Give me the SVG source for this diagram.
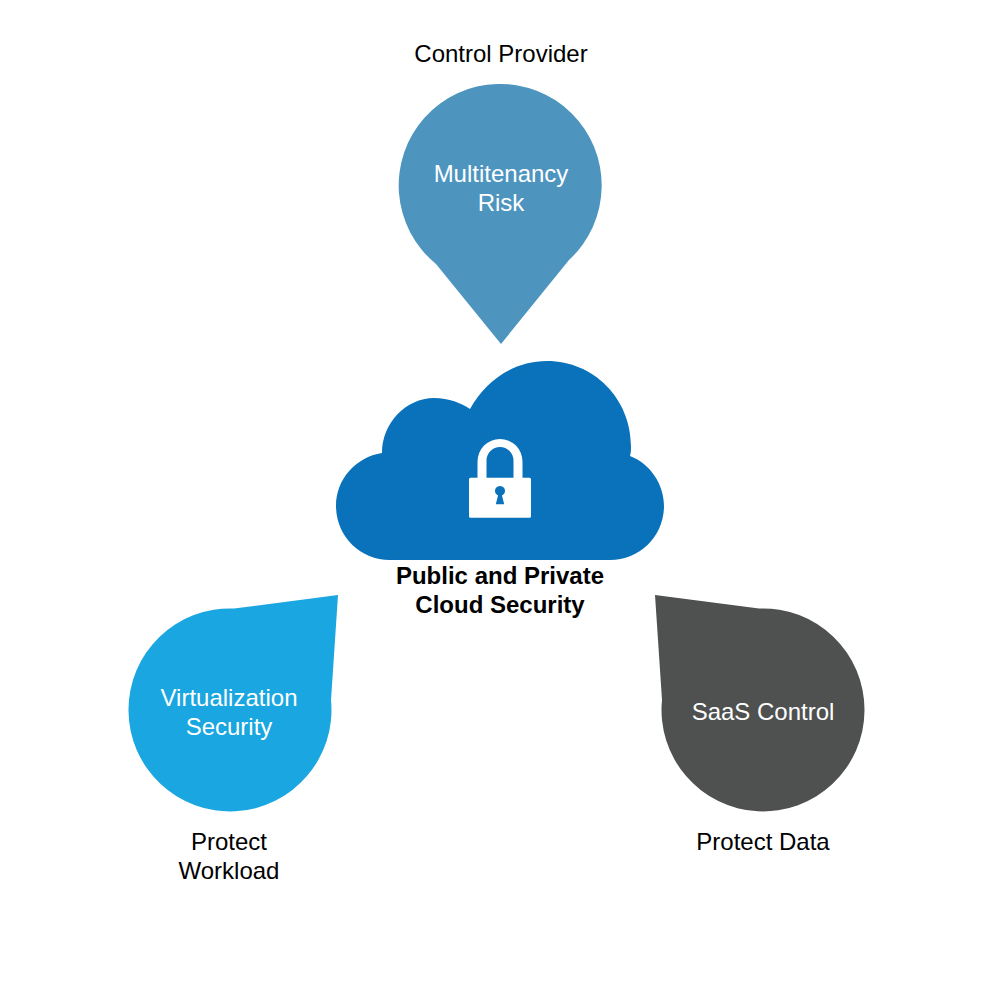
<svg xmlns="http://www.w3.org/2000/svg" width="1000" height="1000" viewBox="0 0 1000 1000">
<style>
text{font-family:"Liberation Sans",Arial,sans-serif;font-size:24px;text-anchor:middle;fill:#000}
.w{fill:#fff}
.b{font-weight:bold}
</style>
<rect width="1000" height="1000" fill="#fff"/>
<g id="connectors"/>
<g id="risk">
<path d="M436 264A101.500 101.500 0 1 1 569 260L501 344Z" fill="#4d95bf"/>
<text class="w" x="501" y="182">Multitenancy</text>
<text class="w" x="501" y="211">Risk</text>
<text x="501" y="62">Control Provider</text>
</g>
<g id="cloud">
<path d="M390 560C360 560 336 536 336 506C336 479 356 457 382 453C382 423 406 398 434 398C449 398 461 403 470 409C486 380 514 361 547 361C594 361 631 399 631 446C631 449 631 453 630 456C651 464 664 485 664 506C664 536 640 560 610 560Z" fill="#0a72bb"/>
<path fill="#fff" fill-rule="evenodd" d="M477.500 477.700V461.500A22.500 22.500 0 0 1 522.500 461.500V477.700H529.500A1.500 1.500 0 0 1 531 479.200V516.200A1.500 1.500 0 0 1 529.500 517.700H470.500A1.500 1.500 0 0 1 469 516.200V479.200A1.500 1.500 0 0 1 470.500 477.700ZM486.500 477.700H513.500V460.500A13.500 13.500 0 0 0 486.500 460.500ZM498 495.500L495.800 504.300H504.200L502 495.500A5 5 0 1 0 498 495.500Z"/>
<text class="b" x="500" y="584">Public and Private</text>
<text class="b" x="500" y="613">Cloud Security</text>
</g>
<g id="virtualization">
<path d="M234 608.500L338 595L331 700A101.500 101.500 0 1 1 234 608.500Z" fill="#1aa6e0"/>
<text class="w" x="229" y="706">Virtualization</text>
<text class="w" x="229" y="735">Security</text>
<text x="229" y="850">Protect</text>
<text x="229" y="879">Workload</text>
</g>
<g id="saas">
<path d="M655 595L759 608.500A101.500 101.500 0 1 1 662 700Z" fill="#4f5150"/>
<text class="w" x="763" y="720">SaaS Control</text>
<text x="763" y="850">Protect Data</text>
</g>
</svg>
